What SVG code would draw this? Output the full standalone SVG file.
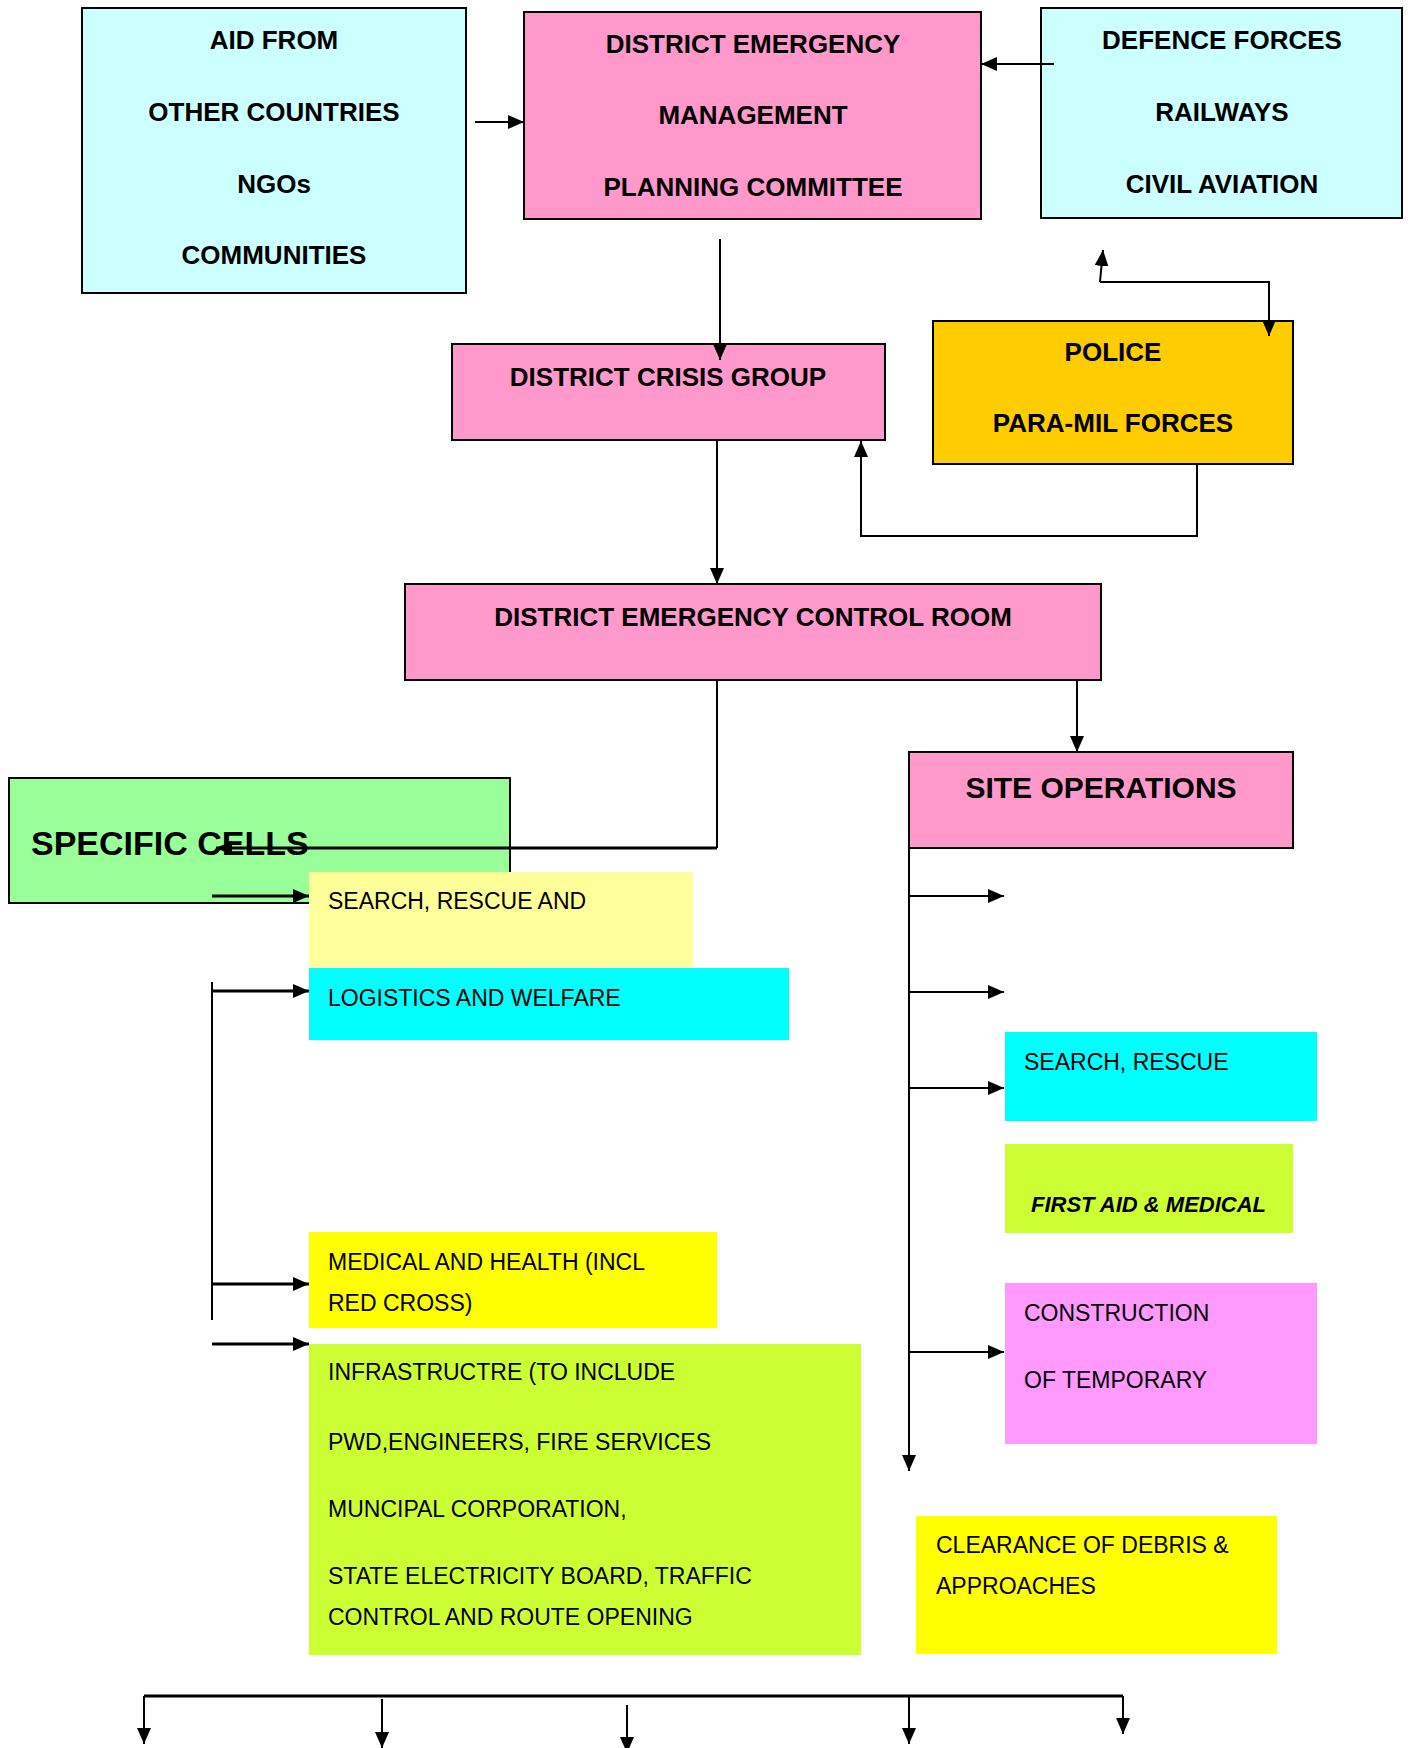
<svg xmlns="http://www.w3.org/2000/svg" width="1411" height="1748" viewBox="0 0 1411 1748">
<style>
  .box { stroke: #000; stroke-width: 2; }
  .h { font-family: "Liberation Sans", Arial, sans-serif; font-weight: bold; font-size: 26px; fill: #000; text-anchor: middle; }
  .t { font-family: "Liberation Sans", Arial, sans-serif; font-size: 23px; fill: #000; }
  .c { fill: none; stroke: #000; stroke-width: 2; }
  .thick { stroke-width: 3; }
</style>
<defs>
  <marker id="arr" markerUnits="userSpaceOnUse" markerWidth="16" markerHeight="14" refX="16" refY="7" orient="auto">
    <path d="M0,0 L16,7 L0,14 Z" fill="#000"/>
  </marker>
</defs>
<rect width="1411" height="1748" fill="#fff"/>

<g id="aid">
  <rect class="box" x="82" y="8" width="384" height="285" fill="#CCFFFF"/>
  <text class="h" x="274" y="49">AID FROM</text>
  <text class="h" x="274" y="121">OTHER COUNTRIES</text>
  <text class="h" x="274" y="193">NGOs</text>
  <text class="h" x="274" y="264">COMMUNITIES</text>
</g>
<g id="demp">
  <rect class="box" x="524" y="12" width="457" height="207" fill="#FF99CC"/>
  <text class="h" x="753" y="53">DISTRICT EMERGENCY</text>
  <text class="h" x="753" y="124">MANAGEMENT</text>
  <text class="h" x="753" y="196">PLANNING COMMITTEE</text>
</g>
<g id="defence">
  <rect class="box" x="1041" y="8" width="361" height="210" fill="#CCFFFF"/>
  <text class="h" x="1222" y="49">DEFENCE FORCES</text>
  <text class="h" x="1222" y="121">RAILWAYS</text>
  <text class="h" x="1222" y="193">CIVIL AVIATION</text>
</g>
<g id="crisis">
  <rect class="box" x="452" y="344" width="433" height="96" fill="#FF99CC"/>
  <text class="h" x="668" y="386">DISTRICT CRISIS GROUP</text>
</g>
<g id="police">
  <rect class="box" x="933" y="321" width="360" height="143" fill="#FFCC00"/>
  <text class="h" x="1113" y="361">POLICE</text>
  <text class="h" x="1113" y="432">PARA-MIL FORCES</text>
</g>
<g id="control">
  <rect class="box" x="405" y="584" width="696" height="96" fill="#FF99CC"/>
  <text class="h" x="753" y="626">DISTRICT EMERGENCY CONTROL ROOM</text>
</g>
<g id="site">
  <rect class="box" x="909" y="752" width="384" height="96" fill="#FF99CC"/>
  <text class="h" x="1101" y="798" style="font-size:30px">SITE OPERATIONS</text>
</g>
<g id="cells">
  <rect class="box" x="9" y="778" width="501" height="125" fill="#99FF99"/>
  <text class="h" x="31" y="855" style="font-size:34px;text-anchor:start">SPECIFIC CELLS</text>
</g>
<g id="search-left">
  <rect x="309" y="872" width="384" height="95" fill="#FFFF99"/>
  <text class="t" x="328" y="909">SEARCH, RESCUE AND</text>
</g>
<g id="logistics">
  <rect x="309" y="968" width="480" height="72" fill="#00FFFF"/>
  <text class="t" x="328" y="1006">LOGISTICS AND WELFARE</text>
</g>
<g id="medical">
  <rect x="309" y="1232" width="408" height="96" fill="#FFFF00"/>
  <text class="t" x="328" y="1270">MEDICAL AND HEALTH (INCL</text>
  <text class="t" x="328" y="1311">RED CROSS)</text>
</g>
<g id="infra">
  <rect x="309" y="1344" width="552" height="311" fill="#CCFF33"/>
  <text class="t" x="328" y="1380">INFRASTRUCTRE (TO INCLUDE</text>
  <text class="t" x="328" y="1450">PWD,ENGINEERS, FIRE SERVICES</text>
  <text class="t" x="328" y="1517">MUNCIPAL CORPORATION,</text>
  <text class="t" x="328" y="1584">STATE ELECTRICITY BOARD, TRAFFIC</text>
  <text class="t" x="328" y="1625">CONTROL AND ROUTE OPENING</text>
</g>
<g id="search-right">
  <rect x="1005" y="1032" width="312" height="89" fill="#00FFFF"/>
  <text class="t" x="1024" y="1070">SEARCH, RESCUE</text>
</g>
<g id="firstaid">
  <rect x="1005" y="1144" width="288" height="89" fill="#CCFF33"/>
  <text class="t" x="1031" y="1212" style="font-weight:bold;font-style:italic;font-size:22px">FIRST AID &amp; MEDICAL</text>
</g>
<g id="construction">
  <rect x="1005" y="1283" width="312" height="161" fill="#FF99FF"/>
  <text class="t" x="1024" y="1321">CONSTRUCTION</text>
  <text class="t" x="1024" y="1388">OF TEMPORARY</text>
</g>
<g id="clearance">
  <rect x="916" y="1516" width="361" height="138" fill="#FFFF00"/>
  <text class="t" x="936" y="1553">CLEARANCE OF DEBRIS &amp;</text>
  <text class="t" x="936" y="1594">APPROACHES</text>
</g>

<g id="connectors">
  <path class="c" d="M475,122 L524,122" marker-end="url(#arr)"/>
  <path class="c" d="M1054,64 L981,64" marker-end="url(#arr)"/>
  <path class="c" d="M720,239 L720,360" marker-end="url(#arr)"/>
  <path class="c" d="M1100,282 L1103,250" marker-end="url(#arr)"/>
  <path class="c" d="M1100,282 L1269,282 L1269,336" marker-end="url(#arr)"/>
  <path class="c" d="M1197,464 L1197,536 L861,536 L861,441" marker-end="url(#arr)"/>
  <path class="c" d="M717,440 L717,584" marker-end="url(#arr)"/>
  <path class="c" d="M1077,680 L1077,752" marker-end="url(#arr)"/>
  <path class="c" d="M717,680 L717,848"/>
  <path class="c thick" d="M717,848 L216,848" marker-end="url(#arr)"/>
  <path class="c thick" d="M212,896 L309,896" marker-end="url(#arr)"/>
  <path class="c" d="M212,982 L212,1320"/>
  <path class="c thick" d="M212,991 L309,991" marker-end="url(#arr)"/>
  <path class="c thick" d="M212,1284 L309,1284" marker-end="url(#arr)"/>
  <path class="c thick" d="M212,1344 L309,1344" marker-end="url(#arr)"/>
  <path class="c" d="M909,848 L909,1471" marker-end="url(#arr)"/>
  <path class="c" d="M909,896 L1004,896" marker-end="url(#arr)"/>
  <path class="c" d="M909,992 L1004,992" marker-end="url(#arr)"/>
  <path class="c" d="M909,1088 L1004,1088" marker-end="url(#arr)"/>
  <path class="c" d="M909,1352 L1004,1352" marker-end="url(#arr)"/>
  <path class="c thick" d="M144,1696 L1123,1696"/>
  <path class="c" d="M144,1696 L144,1744" marker-end="url(#arr)"/>
  <path class="c" d="M382,1699 L382,1748" marker-end="url(#arr)"/>
  <path class="c" d="M627,1705 L627,1753" marker-end="url(#arr)"/>
  <path class="c" d="M909,1696 L909,1744" marker-end="url(#arr)"/>
  <path class="c" d="M1123,1696 L1123,1734" marker-end="url(#arr)"/>
</g>
</svg>
